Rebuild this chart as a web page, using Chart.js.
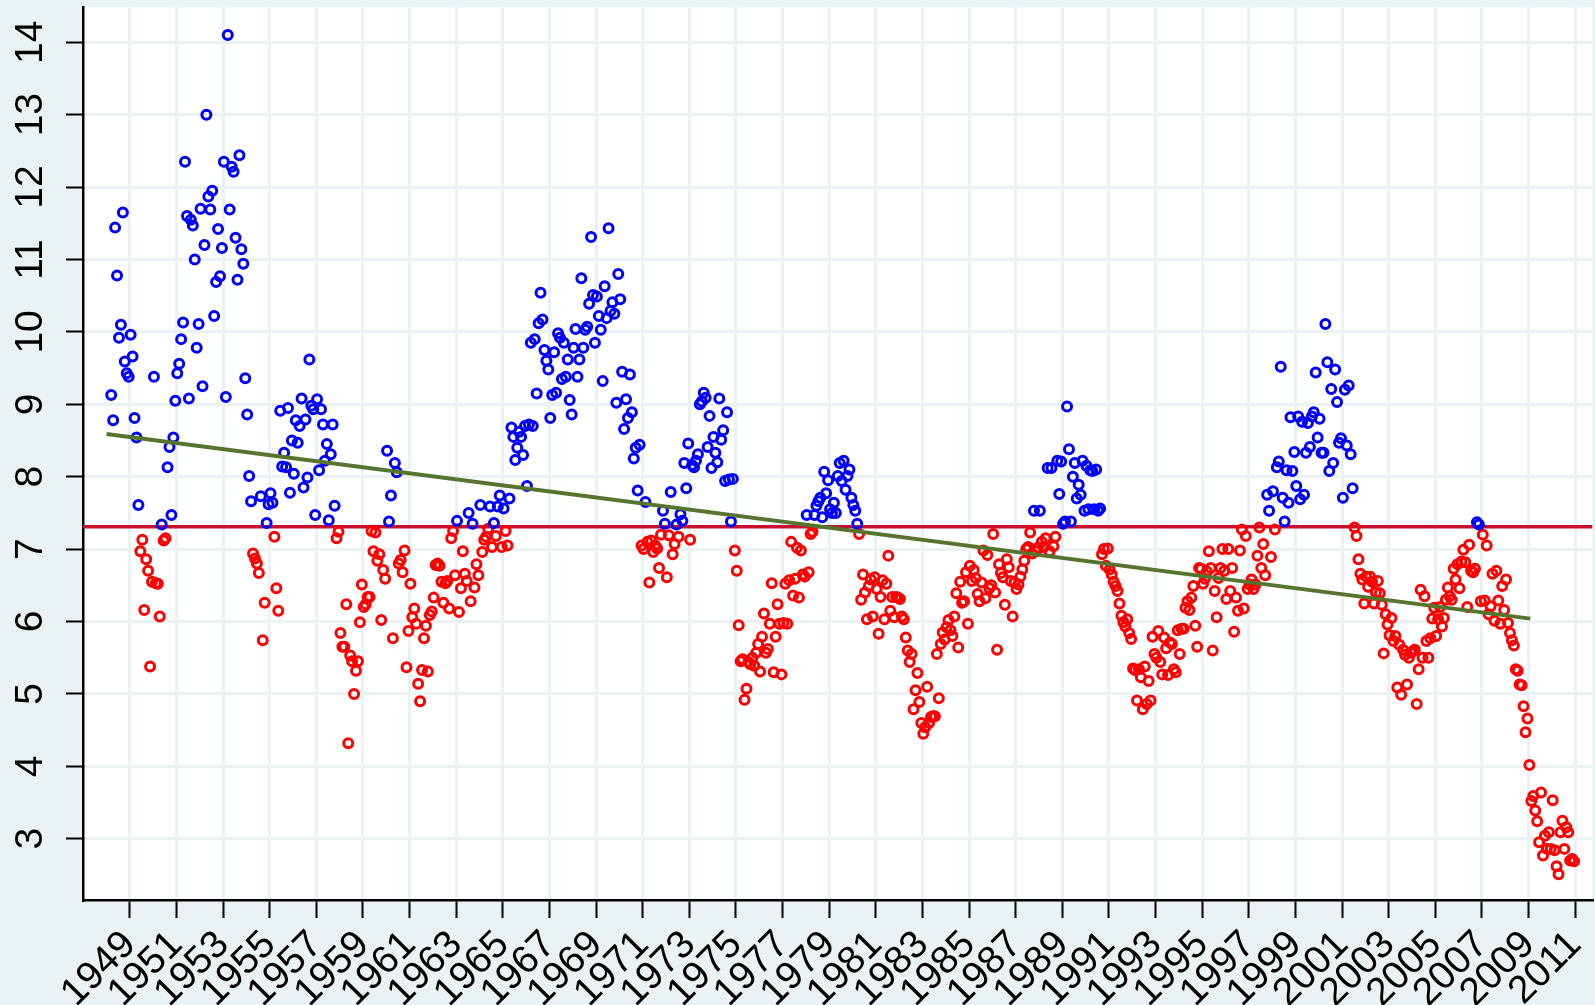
<!DOCTYPE html>
<html>
<head>
<meta charset="utf-8">
<title>Monthly series 1948-2010</title>
<script src="https://cdn.jsdelivr.net/npm/chart.js@4.4.0/dist/chart.umd.min.js"></script>
<style>
  html, body { margin: 0; padding: 0; background: #eaf2f3; overflow: hidden; }
  #box { width: 1600px; height: 1005px; }
</style>
</head>
<body>
<!-- la tela e' 5px piu' larga: il layout di Chart.js lascia 5px a destra -->
<div id="box"><canvas id="myChart" width="1600" height="1005"></canvas></div>
<script>
// first month of the series (January), placed a little after the year mark
var firstYear = 1948;
var monthShift = 0.2;

// one row per year, January -> December (2010 stops in October)
var monthlyValues = [
  9.13, 8.78, 11.44, 10.78, 9.92, 10.10, 11.65, 9.59, 9.43, 9.38, 9.96, 9.66,   // 1948
  8.81, 8.54, 7.61, 6.97, 7.13, 6.16, 6.86, 6.70, 5.38, 6.55, 9.38, 6.53,       // 1949
  6.52, 6.07, 7.34, 7.12, 7.15, 8.13, 8.41, 7.47, 8.54, 9.05, 9.43, 9.56,       // 1950
  9.90, 10.13, 12.35, 11.60, 9.08, 11.55, 11.47, 11.00, 9.78, 10.11, 11.70, 9.25, // 1951
  11.20, 13.00, 11.87, 11.69, 11.95, 10.22, 10.69, 11.42, 10.77, 11.16, 12.35, 9.10, // 1952
  14.10, 11.69, 12.28, 12.21, 11.30, 10.72, 12.44, 11.14, 10.94, 9.36, 8.86, 8.01, // 1953
  7.66, 6.94, 6.87, 6.80, 6.67, 7.73, 5.74, 6.26, 7.36, 7.62, 7.77, 7.64,       // 1954
  7.17, 6.46, 6.15, 8.91, 8.14, 8.33, 8.13, 8.95, 7.78, 8.50, 8.04, 8.78,       // 1955
  8.47, 8.70, 9.08, 7.85, 8.79, 7.99, 9.62, 8.98, 8.93, 7.47, 9.07, 8.09,       // 1956
  8.93, 8.72, 8.22, 8.45, 7.40, 8.31, 8.72, 7.60, 7.15, 7.24, 5.84, 5.65,       // 1957
  5.65, 6.24, 4.32, 5.53, 5.45, 5.00, 5.32, 5.45, 5.99, 6.51, 6.20, 6.24,       // 1958
  6.34, 6.34, 7.25, 6.97, 7.23, 6.84, 6.93, 6.02, 6.71, 6.59, 8.36, 7.38,       // 1959
  7.74, 5.77, 8.19, 8.06, 6.80, 6.85, 6.68, 6.98, 5.37, 5.87, 6.52, 6.06,       // 1960
  6.18, 5.97, 5.14, 4.90, 5.33, 5.77, 5.94, 5.31, 6.09, 6.14, 6.33, 6.78,       // 1961
  6.80, 6.77, 6.55, 6.26, 6.53, 6.56, 6.18, 7.15, 7.25, 6.64, 7.39, 6.13,       // 1962
  6.46, 6.97, 6.66, 6.56, 7.50, 6.28, 7.35, 6.47, 6.79, 6.64, 7.61, 6.96,       // 1963
  7.13, 7.17, 7.28, 7.59, 7.03, 7.36, 7.18, 7.59, 7.74, 7.03, 7.56, 7.25,       // 1964
  7.05, 7.70, 8.68, 8.55, 8.23, 8.40, 8.62, 8.55, 8.30, 8.70, 7.87, 8.72,       // 1965
  9.85, 8.70, 9.90, 9.15, 10.12, 10.54, 10.17, 9.75, 9.60, 9.48, 8.81, 9.13,    // 1966
  9.72, 9.16, 9.98, 9.92, 9.35, 9.85, 9.38, 9.62, 9.06, 8.86, 9.78, 10.04,      // 1967
  9.38, 9.62, 10.74, 9.78, 10.03, 10.07, 10.39, 11.31, 10.51, 9.85, 10.49, 10.22, // 1968
  10.03, 9.32, 10.63, 10.19, 11.43, 10.29, 10.41, 10.25, 9.02, 10.80, 10.45, 9.45, // 1969
  8.66, 9.07, 8.81, 9.41, 8.89, 8.25, 8.40, 7.81, 8.44, 7.05, 7.00, 7.65,       // 1970
  7.10, 6.54, 7.12, 6.96, 7.05, 7.01, 6.74, 7.20, 7.53, 7.35, 6.61, 7.19,       // 1971
  7.79, 6.93, 7.07, 7.34, 7.17, 7.48, 7.39, 8.19, 7.84, 8.46, 7.13, 8.16,       // 1972
  8.13, 8.22, 8.31, 9.00, 9.04, 9.16, 9.09, 8.41, 8.84, 8.12, 8.55, 8.33,       // 1973
  8.20, 9.08, 8.51, 8.64, 7.94, 8.89, 7.96, 7.38, 7.97, 6.98, 6.70, 5.95,       // 1974
  5.45, 5.48, 4.92, 5.07, 5.44, 5.41, 5.50, 5.39, 5.57, 5.69, 5.31, 5.79,       // 1975
  6.11, 5.57, 5.62, 5.97, 6.53, 5.30, 5.79, 6.24, 5.97, 5.27, 5.98, 6.52,       // 1976
  5.97, 6.57, 7.10, 6.36, 6.59, 7.02, 6.33, 6.98, 6.65, 6.62, 7.47, 6.68,       // 1977
  7.21, 7.24, 7.47, 7.60, 7.66, 7.71, 7.44, 8.07, 7.77, 7.95, 7.55, 7.50,       // 1978
  7.64, 7.50, 8.01, 8.19, 7.94, 8.22, 7.82, 8.01, 8.10, 7.71, 7.61, 7.53,       // 1979
  7.35, 7.21, 6.30, 6.65, 6.40, 6.03, 6.49, 6.58, 6.07, 6.61, 6.45, 5.83,       // 1980
  6.34, 6.57, 6.03, 6.52, 6.91, 6.15, 6.34, 6.06, 6.34, 6.33, 6.31, 6.07,       // 1981
  6.03, 5.78, 5.60, 5.44, 5.55, 4.79, 5.05, 5.29, 4.89, 4.60, 4.45, 4.54,       // 1982
  5.10, 4.60, 4.68, 4.69, 4.69, 5.55, 4.94, 5.69, 5.85, 5.75, 5.92, 6.02,       // 1983
  5.88, 5.80, 6.07, 6.39, 5.64, 6.55, 6.26, 6.28, 6.68, 5.97, 6.77, 6.56,       // 1984
  6.71, 6.60, 6.38, 6.28, 6.54, 6.98, 6.32, 6.92, 6.46, 6.50, 7.21, 6.40,       // 1985
  5.61, 6.79, 6.67, 6.61, 6.23, 6.86, 6.75, 6.56, 6.07, 6.54, 6.45, 6.51,       // 1986
  6.62, 6.72, 6.84, 7.00, 7.03, 7.23, 6.94, 7.53, 6.97, 7.02, 7.53, 7.10,       // 1987
  7.03, 7.15, 8.12, 6.97, 8.12, 7.04, 7.17, 8.22, 7.76, 8.21, 7.35, 7.38,       // 1988
  8.97, 8.38, 7.38, 8.00, 8.19, 7.70, 7.89, 7.75, 8.22, 7.53, 8.15, 7.55,       // 1989
  8.09, 8.08, 7.55, 8.10, 7.53, 7.56, 6.93, 7.00, 6.77, 7.01, 6.72, 6.65,       // 1990
  6.55, 6.49, 6.42, 6.25, 6.08, 5.99, 5.93, 6.03, 5.84, 5.76, 5.35, 5.33,       // 1991
  4.91, 5.34, 5.23, 4.79, 5.38, 4.86, 5.18, 4.91, 5.79, 5.55, 5.50, 5.87,       // 1992
  5.44, 5.27, 5.78, 5.63, 5.26, 5.71, 5.69, 5.34, 5.30, 5.88, 5.55, 5.90,       // 1993
  5.90, 6.19, 6.28, 6.16, 6.33, 6.49, 5.94, 5.65, 6.74, 6.73, 6.52, 6.59,       // 1994
  6.69, 6.97, 6.74, 5.60, 6.42, 6.06, 6.60, 6.74, 7.00, 6.70, 6.31, 7.00,       // 1995
  6.42, 6.74, 5.86, 6.33, 6.15, 6.98, 7.27, 6.18, 7.18, 6.45, 6.51, 6.58,       // 1996
  6.45, 6.51, 6.91, 7.30, 6.74, 7.07, 6.64, 7.75, 7.53, 6.89, 7.80, 7.27,       // 1997
  8.13, 8.21, 9.52, 7.71, 7.38, 8.09, 7.64, 8.82, 8.08, 8.34, 7.87, 8.83,       // 1998
  7.69, 8.76, 7.75, 8.33, 8.74, 8.41, 8.83, 8.89, 9.44, 8.54, 8.80, 8.33,       // 1999
  8.33, 10.11, 9.58, 8.08, 9.21, 8.19, 9.48, 9.03, 8.47, 8.53, 7.71, 9.20,      // 2000
  8.43, 9.26, 8.31, 7.84, 7.30, 7.18, 6.86, 6.66, 6.58, 6.25, 6.62, 6.48,       // 2001
  6.62, 6.55, 6.25, 6.40, 6.56, 6.39, 6.23, 5.56, 6.10, 5.96, 5.81, 6.05,       // 2002
  5.73, 5.80, 5.09, 5.68, 4.99, 5.61, 5.54, 5.13, 5.50, 5.57, 5.59, 5.61,       // 2003
  4.86, 5.34, 6.44, 5.50, 6.35, 5.73, 5.50, 5.77, 6.04, 6.19, 5.80, 6.03,       // 2004
  6.20, 5.93, 6.05, 6.30, 6.47, 6.35, 6.30, 6.73, 6.58, 6.79, 6.46, 6.83,       // 2005
  6.99, 6.82, 6.20, 7.06, 6.70, 6.68, 6.73, 7.37, 7.34, 6.28, 7.20, 6.29,       // 2006
  7.05, 6.10, 6.21, 6.66, 6.01, 6.70, 6.29, 5.97, 6.49, 6.16, 6.58, 5.98,       // 2007
  5.84, 5.74, 5.67, 5.34, 5.32, 5.13, 5.12, 4.83, 4.47, 4.66, 4.02, 3.52,       // 2008
  3.59, 3.39, 3.24, 2.95, 3.64, 2.77, 3.04, 2.86, 3.09, 2.86, 3.53, 2.84,       // 2009
  2.62, 2.51, 3.09, 3.25, 2.86, 3.16, 3.09, 2.70, 2.72, 2.69                    // 2010
];

// horizontal reference line (points above it are blue, the rest red)
var threshold = 7.31;

// linear trend, start and end
var trendYears = [1948.0, 2009.07];
var trendValues = [8.59, 6.04];

// axis labels
var xTickLabels = [1949, 1951, 1953, 1955, 1957, 1959, 1961, 1963, 1965, 1967, 1969,
  1971, 1973, 1975, 1977, 1979, 1981, 1983, 1985, 1987, 1989, 1991, 1993, 1995,
  1997, 1999, 2001, 2003, 2005, 2007, 2009, 2011];
var yTickLabels = [3, 4, 5, 6, 7, 8, 9, 10, 11, 12, 13, 14];

// axis ranges
var xMin = 1946.99;
var xMax = 2011.74;
var yMin = 2.154;
var yMax = 14.48;

var fontName = '"Liberation Sans", Arial, Helvetica, sans-serif';

//Funzione che divide i punti sopra e sotto la linea
function splitPoints () {
  var above = [];
  var below = [];
  for (var i = 0; i < monthlyValues.length; i++) {
    var p = {x: firstYear + monthShift + i / 12, y: monthlyValues[i]};
    if (p.y > threshold) {
      above.push(p);
    } else {
      below.push(p);
    }
  }
  return {above: above, below: below};
}

// sfondo grigio-azzurro e area del grafico bianca
var backgroundPlugin = {
  id: 'bg',
  beforeDraw: function (chart) {
    var ctx = chart.ctx;
    var a = chart.chartArea;
    ctx.save();
    ctx.fillStyle = '#eaf2f3';
    ctx.fillRect(0, 0, chart.width, chart.height);
    ctx.fillStyle = '#ffffff';
    ctx.fillRect(a.left, a.top, a.right - a.left, a.bottom - a.top);
    ctx.restore();
  }
};

// etichette dell'asse y girate di 90 gradi
var yLabelPlugin = {
  id: 'yLabels',
  afterDraw: function (chart) {
    var ctx = chart.ctx;
    var scale = chart.scales.y;
    ctx.save();
    ctx.fillStyle = '#000';
    ctx.font = '39px ' + fontName;
    ctx.textAlign = 'center';
    ctx.textBaseline = 'middle';
    for (var i = 0; i < yTickLabels.length; i++) {
      var py = scale.getPixelForValue(yTickLabels[i]);
      ctx.save();
      ctx.translate(31, py);
      ctx.rotate(-Math.PI / 2);
      ctx.fillText(String(yTickLabels[i]), 0, 0);
      ctx.restore();
    }
    ctx.restore();
  }
};

function chart () {
  var pts = splitPoints();
  var ctx = document.getElementById('myChart').getContext('2d');
  var myChart = new Chart(ctx, {
    type: 'scatter',
    data: {
      datasets: [
        {
          label: 'trend',
          data: [{x: trendYears[0], y: trendValues[0]}, {x: trendYears[1], y: trendValues[1]}],
          showLine: true,
          borderColor: '#55752f',
          borderWidth: 4,
          pointRadius: 0,
          order: 0
        },
        {
          label: 'above',
          data: pts.above,
          pointStyle: 'circle',
          pointRadius: 4.5,
          pointBorderWidth: 3,
          pointBorderColor: '#0000ff',
          pointBackgroundColor: 'rgba(0,0,0,0)',
          order: 1
        },
        {
          label: 'below',
          data: pts.below,
          pointStyle: 'circle',
          pointRadius: 4.5,
          pointBorderWidth: 3,
          pointBorderColor: '#ff0000',
          pointBackgroundColor: 'rgba(0,0,0,0)',
          order: 2
        },
        {
          label: 'mean',
          data: [{x: xMin, y: threshold}, {x: xMax, y: threshold}],
          showLine: true,
          borderColor: '#c8102e',
          borderWidth: 3.5,
          pointRadius: 0,
          order: 3
        }
      ]
    },
    options: {
      responsive: false,
      animation: false,
      devicePixelRatio: 1,
      layout: { padding: { top: 5, left: 0, right: 0, bottom: 0 } },
      plugins: {
        legend: { display: false },
        tooltip: { enabled: false }
      },
      scales: {
        x: {
          type: 'linear',
          min: xMin,
          max: xMax,
          grid: { color: '#eaf2f3', lineWidth: 3, tickColor: '#000', tickLength: 18, tickWidth: 2 },
          border: { color: '#000', width: 2.5 },
          ticks: {
            autoSkip: false,
            minRotation: 45,
            maxRotation: 45,
            color: '#000',
            padding: 4,
            font: { family: fontName, size: 39 },
            callback: function (v) { return String(v); }
          },
          afterBuildTicks: function (s) {
            s.ticks = xTickLabels.map(function (v) { return {value: v}; });
          },
          afterFit: function (s) {
            s.height = 105;
            s.paddingLeft = 0;
            s.paddingRight = 0;
          }
        },
        y: {
          type: 'linear',
          min: yMin,
          max: yMax,
          grid: { color: '#eaf2f3', lineWidth: 3, tickColor: '#000', tickLength: 17, tickWidth: 2 },
          border: { color: '#000', width: 2.5 },
          ticks: { display: false },
          afterBuildTicks: function (s) {
            s.ticks = yTickLabels.map(function (v) { return {value: v}; });
          },
          afterFit: function (s) {
            s.width = 83;
            s.paddingTop = 0;
            s.paddingBottom = 0;
          }
        }
      }
    },
    plugins: [backgroundPlugin, yLabelPlugin]
  });
}

chart();
</script>
</body>
</html>
